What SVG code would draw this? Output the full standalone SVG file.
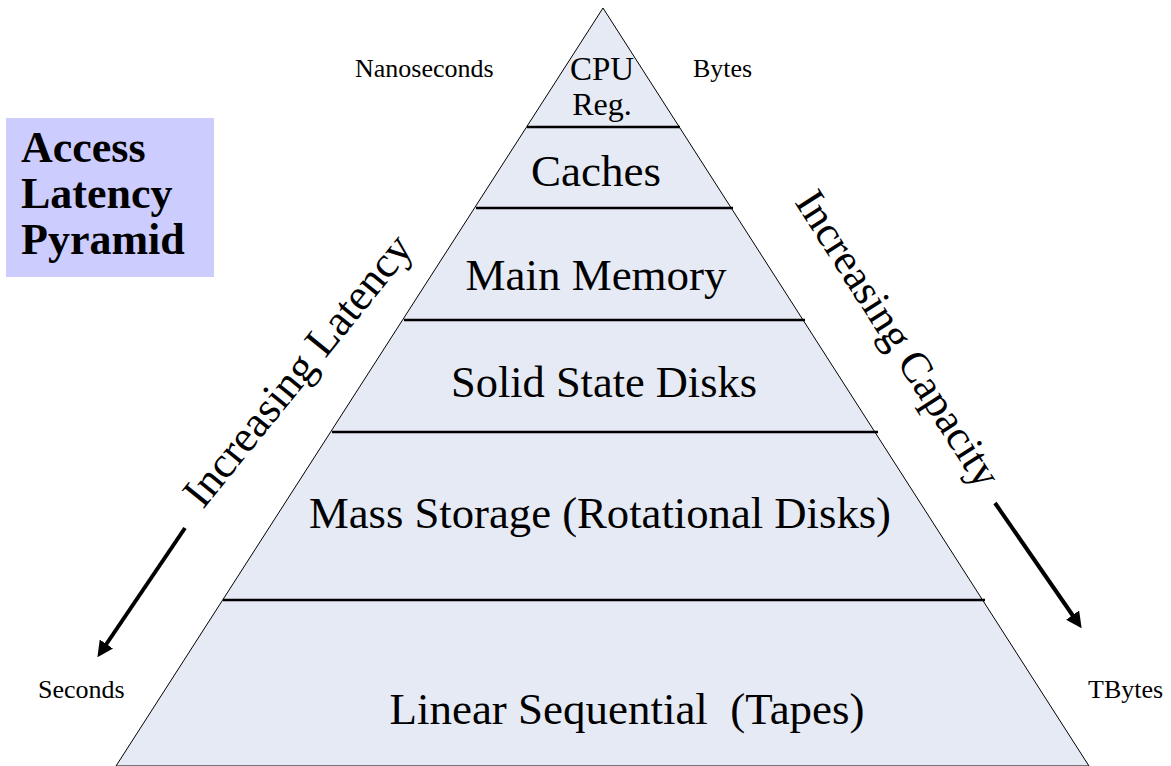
<svg xmlns="http://www.w3.org/2000/svg" width="1171" height="766" viewBox="0 0 1171 766">
  <defs>
    <style>
      .lbl { font-family: "Liberation Serif", "Times New Roman", serif; fill: #000; }
      .big { font-size: 45px; text-anchor: middle; }
      .small { font-size: 26px; }
      .title { font-size: 44px; font-weight: bold; }
      .tier { stroke: #000; stroke-width: 2.5; fill: none; }
      .arrow { stroke: #000; stroke-width: 4; fill: none; marker-end: url(#head); }
    </style>
    <marker id="head" viewBox="0 0 10 10" refX="6" refY="5" markerWidth="4" markerHeight="4" orient="auto" markerUnits="strokeWidth">
      <path d="M0,0 L10,5 L0,10 z" fill="#000"/>
    </marker>
  </defs>
  <rect width="1171" height="766" fill="#fff"/>

  <g id="pyramid">
    <polygon points="603,8 116,766 1089,766" fill="#E6EAF4" stroke="#000" stroke-width="1"/>
    <line class="tier" x1="527" y1="127" x2="680" y2="127"/>
    <line class="tier" x1="476" y1="208" x2="733" y2="208"/>
    <line class="tier" x1="404" y1="320" x2="805" y2="320"/>
    <line class="tier" x1="332" y1="432" x2="878" y2="432"/>
    <line class="tier" x1="223" y1="600" x2="985" y2="600"/>
  </g>

  <g id="title-box">
    <rect x="6" y="118" width="208" height="159" fill="#CCCCFF"/>
    <text class="lbl title" x="21" y="162">Access</text>
    <text class="lbl title" x="21" y="208">Latency</text>
    <text class="lbl title" x="21" y="254">Pyramid</text>
  </g>

  <g id="cpu-reg">
    <text class="lbl" x="602" y="80" font-size="33" text-anchor="middle">CPU</text>
    <text class="lbl" x="602" y="115" font-size="32" text-anchor="middle">Reg.</text>
  </g>
  <g id="caches"><text class="lbl big" x="596" y="186" font-size="44">Caches</text></g>
  <g id="main-memory"><text class="lbl big" x="596" y="290" font-size="44">Main Memory</text></g>
  <g id="ssd"><text class="lbl big" x="604" y="397" font-size="46" textLength="306" lengthAdjust="spacingAndGlyphs">Solid State Disks</text></g>
  <g id="mass-storage"><text class="lbl big" x="600" y="528" font-size="46" textLength="582" lengthAdjust="spacingAndGlyphs">Mass Storage (Rotational Disks)</text></g>
  <g id="tapes"><text class="lbl big" x="627" y="724" font-size="47" textLength="475" lengthAdjust="spacingAndGlyphs" xml:space="preserve">Linear Sequential  (Tapes)</text></g>

  <g id="labels">
    <text class="lbl small" x="355" y="77">Nanoseconds</text>
    <text class="lbl small" x="693" y="77">Bytes</text>
    <text class="lbl small" x="38" y="698">Seconds</text>
    <text class="lbl small" x="1088" y="698">TBytes</text>
  </g>

  <g id="latency-label">
    <text class="lbl" font-size="44" transform="translate(203,510) rotate(-51)">Increasing Latency</text>
  </g>
  <g id="capacity-label">
    <text class="lbl" font-size="43" transform="translate(794,202) rotate(57.4)">Increasing Capacity</text>
  </g>

  <g id="connectors">
    <line class="arrow" x1="185" y1="528" x2="101" y2="652"/>
    <line class="arrow" x1="995" y1="503" x2="1078" y2="623"/>
  </g>
</svg>
